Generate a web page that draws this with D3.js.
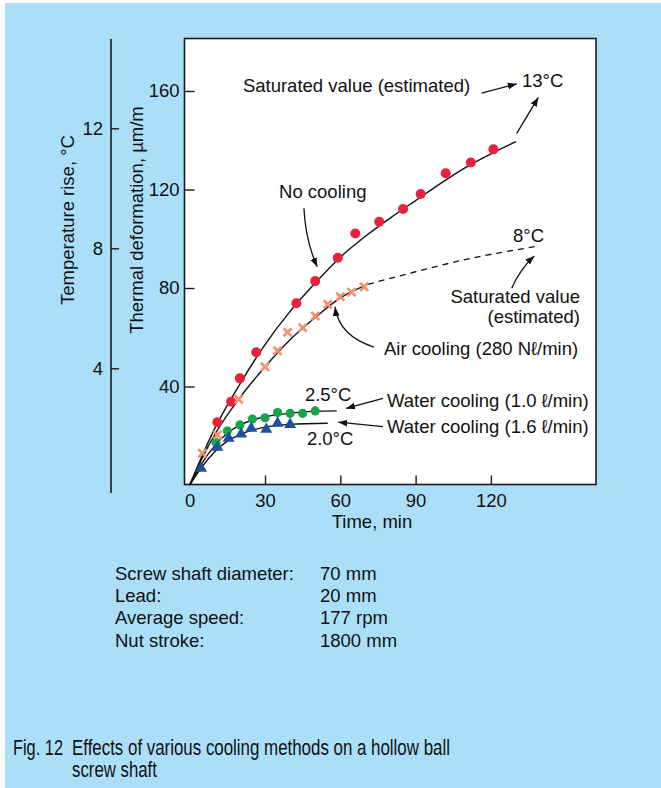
<!DOCTYPE html>
<html>
<head>
<meta charset="utf-8">
<script src="https://cdn.jsdelivr.net/npm/d3@7/dist/d3.min.js"></script>
<style>
  html, body { margin: 0; padding: 0; background: #ffffff; }
  svg { display: block; }
  text { font-family: "Liberation Sans", Arial, Helvetica, sans-serif; fill: #111; }
</style>
</head>
<body>
<svg id="chart" width="661" height="788"></svg>
<script>
// ---- measured series (time in min, deformation in µm/m) ----
const noCoolingTime = [11, 16.5, 20, 26.5, 42.5, 50, 59, 66, 75.5, 85, 92, 102, 112, 121];
const noCoolingDef  = [25.5, 33.8, 43.3, 53.9, 73.8, 82.8, 92.3, 102.1, 106.9, 112.1, 118.2, 126.6, 131, 136.3];

const airTime = [5, 11, 19.5, 30, 35, 39, 45, 50, 55, 60, 64.5, 69.5];
const airDef  = [12.9, 20.3, 34.8, 48, 54.5, 62, 63.9, 68.6, 73.4, 76.5, 78.3, 80.5];

const water10Time = [10.5, 15, 20, 25, 30, 35, 40, 45, 50];
const water10Def  = [17.2, 21.9, 24.4, 26.8, 27.3, 29.4, 29.1, 29.1, 30.1];

const water16Time = [4.5, 11, 15.5, 20.5, 24.5, 30.5, 35, 40];
const water16Def  = [6.8, 15.3, 19, 20.7, 23, 22.6, 25.1, 24.6];

// ---- fitted trend lines ----
const noCoolingFitTime = [0, 5, 10, 20, 30, 40, 50, 60, 70, 80, 90, 100, 110, 120, 130];
const noCoolingFitDef  = [0, 12, 23, 41, 57, 70.5, 82, 92.5, 101, 108.5, 115.5, 122.5, 129, 134.5, 139.4];

const airFitTime = [0, 5, 10, 20, 30, 40, 50, 60, 71];
const airFitDef  = [0, 11, 20.5, 35.5, 48, 59, 68, 76, 81.5];
const airEstTime = [71, 90, 110, 137.6];
const airEstDef  = [81.5, 86.6, 91.6, 96.8];

const water10FitTime = [0, 5, 10, 15, 20, 25, 30, 40, 50, 58.6];
const water10FitDef  = [0, 9, 16, 21, 24.3, 26.4, 27.7, 29.2, 29.9, 30.1];

const water16FitTime = [0, 5, 10, 15, 20, 25, 30, 40, 55];
const water16FitDef  = [0, 7.5, 13.5, 17.8, 20.5, 22.3, 23.5, 24.6, 25.1];

// ---- axes ----
const timeTicks = [0, 30, 60, 90, 120];
const defTicks  = [40, 80, 120, 160];
const tempTicks = [4, 8, 12];

const specLabels = ["Screw shaft diameter:", "Lead:", "Average speed:", "Nut stroke:"];
const specValues = ["70 mm", "20 mm", "177 rpm", "1800 mm"];

const zip = (xs, ys) => xs.map((v, i) => [v, ys[i]]);

const svg = d3.select("#chart");

// panel background
svg.append("rect").attr("x", 5).attr("y", 3).attr("width", 656).attr("height", 785)
  .attr("fill", "#abdff9");

const box = { left: 184.5, right: 596, top: 38.5, bottom: 484.5 };

const x = d3.scaleLinear().domain([0, 120]).range([189.7, 490.9]);
const y = d3.scaleLinear().domain([0, 160]).range([485, 91]);
const yT = d3.scaleLinear().domain([0, 12]).range([488.3, 128.3]);

// plot area
svg.append("rect")
  .attr("x", box.left).attr("y", box.top)
  .attr("width", box.right - box.left).attr("height", box.bottom - box.top)
  .attr("fill", "#ffffff").attr("stroke", "#1a1a1a").attr("stroke-width", 1.6);

const fontSize = 18.5;

// bottom axis (ticks point inward)
const gx = svg.append("g").attr("transform", `translate(0,${box.bottom})`)
  .call(d3.axisBottom(x).tickValues(timeTicks).tickSizeInner(-9).tickSizeOuter(0).tickPadding(9));
gx.select(".domain").remove();
gx.selectAll(".tick line").attr("stroke", "#1a1a1a").attr("stroke-width", 1.4)
  .filter(d => d === 0).remove();
gx.selectAll(".tick text").attr("font-size", fontSize).attr("font-family", null).attr("fill", "#111");

// left deformation axis (ticks point inward)
const gy = svg.append("g").attr("transform", `translate(${box.left},0)`)
  .call(d3.axisLeft(y).tickValues(defTicks).tickSizeInner(-10).tickSizeOuter(0).tickPadding(5));
gy.select(".domain").remove();
gy.selectAll(".tick line").attr("stroke", "#1a1a1a").attr("stroke-width", 1.4);
gy.selectAll(".tick text").attr("font-size", fontSize).attr("font-family", null).attr("fill", "#111");

// temperature axis
const tAxisX = 111;
svg.append("line").attr("x1", tAxisX).attr("x2", tAxisX).attr("y1", 39).attr("y2", 493)
  .attr("stroke", "#1a1a1a").attr("stroke-width", 1.6);
const gt = svg.append("g").attr("transform", `translate(${tAxisX},0)`)
  .call(d3.axisLeft(yT).tickValues(tempTicks).tickSizeInner(-8).tickSizeOuter(0).tickPadding(8));
gt.select(".domain").remove();
gt.selectAll(".tick line").attr("stroke", "#1a1a1a").attr("stroke-width", 1.4);
gt.selectAll(".tick text").attr("font-size", fontSize).attr("font-family", null).attr("fill", "#111");

// axis titles
svg.append("text").attr("transform", "translate(143,220) rotate(-90)")
  .attr("text-anchor", "middle").attr("font-size", fontSize).text("Thermal deformation, µm/m");
svg.append("text").attr("transform", "translate(74,220) rotate(-90)")
  .attr("text-anchor", "middle").attr("font-size", fontSize).text("Temperature rise, °C");
svg.append("text").attr("x", 372).attr("y", 528)
  .attr("text-anchor", "middle").attr("font-size", fontSize).text("Time, min");

// arrowhead
svg.append("defs").append("marker")
  .attr("id", "head").attr("viewBox", "0 0 10 10").attr("refX", 10).attr("refY", 5)
  .attr("markerWidth", 9).attr("markerHeight", 9).attr("markerUnits", "userSpaceOnUse")
  .attr("orient", "auto")
  .append("path").attr("d", "M0,1.2 L10,5 L0,8.8 Z").attr("fill", "#111");

// trend lines
const line = d3.line().x(d => x(d[0])).y(d => y(d[1])).curve(d3.curveMonotoneX);
const plot = svg.append("g");
[[noCoolingFitTime, noCoolingFitDef], [airFitTime, airFitDef],
 [water10FitTime, water10FitDef], [water16FitTime, water16FitDef]].forEach(([t, v]) => {
  plot.append("path").attr("d", line(zip(t, v)))
    .attr("fill", "none").attr("stroke", "#111").attr("stroke-width", 1.4);
});
plot.append("path").attr("d", line(zip(airEstTime, airEstDef)))
  .attr("fill", "none").attr("stroke", "#111").attr("stroke-width", 1.3)
  .attr("stroke-dasharray", "6,5");

// markers
plot.selectAll(".nc").data(zip(noCoolingTime, noCoolingDef)).join("circle")
  .attr("cx", d => x(d[0])).attr("cy", d => y(d[1])).attr("r", 5).attr("fill", "#e8213c");
plot.selectAll(".w10").data(zip(water10Time, water10Def)).join("circle")
  .attr("cx", d => x(d[0])).attr("cy", d => y(d[1])).attr("r", 4.6).attr("fill", "#17a54b");
const tri = d3.symbol().type(d3.symbolTriangle).size(62);
plot.selectAll(".w16").data(zip(water16Time, water16Def)).join("path")
  .attr("transform", d => `translate(${x(d[0])},${y(d[1])})`)
  .attr("d", tri).attr("fill", "#1b4f9f");
const cross = d3.symbol().type(d3.symbolX).size(45);
plot.selectAll(".air").data(zip(airTime, airDef)).join("path")
  .attr("transform", d => `translate(${x(d[0])},${y(d[1])})`)
  .attr("d", cross).attr("fill", "none").attr("stroke", "#f4906e").attr("stroke-width", 2.6);

// annotations (positions in data units)
const ann = svg.append("g");
function label(t, v, txt, anchor) {
  ann.append("text").attr("x", x(t)).attr("y", y(v)).attr("font-size", fontSize)
    .attr("text-anchor", anchor || "start").text(txt);
}
function arrow(p0, p1, ctrl) {
  const a = [x(p0[0]), y(p0[1])], b = [x(p1[0]), y(p1[1])];
  const d = ctrl ? `M${a}Q${x(ctrl[0])},${y(ctrl[1])} ${b}` : `M${a}L${b}`;
  ann.append("path").attr("d", d).attr("fill", "none").attr("stroke", "#111")
    .attr("stroke-width", 1.3).attr("marker-end", "url(#head)");
}

label(21.2, 159.4, "Saturated value (estimated)");
arrow([116.3, 159.1], [130.3, 162.9]);
label(132.4, 161.6, "13°C");
arrow([130.3, 142.8], [138.9, 157.4]);

label(35.6, 116.4, "No cooling");
arrow([45.5, 112.4], [50.8, 88.6], [46.2, 99]);

label(128.8, 98.8, "8°C");
label(155.5, 73.9, "Saturated value", "end");
label(155.5, 65.9, "(estimated)", "end");
arrow([128.3, 79.9], [137.3, 93.0], [131.5, 87.5]);

label(77.4, 52.8, "Air cooling (280 Nℓ/min)");
arrow([73.4, 56.0], [57.9, 72.3], [59.5, 60.5]);

label(45.9, 34.2, "2.5°C");
label(46.7, 16.2, "2.0°C");
arrow([77.0, 35.2], [62.3, 31.1]);
label(78.6, 31.8, "Water cooling (1.0 ℓ/min)");
arrow([77.0, 23.7], [59.2, 25.5]);
label(78.6, 21.2, "Water cooling (1.6 ℓ/min)");

// test conditions
const spec = svg.append("g");
specLabels.forEach((s, i) => {
  spec.append("text").attr("x", 115).attr("y", 580 + i * 22.2).attr("font-size", fontSize).text(s);
  spec.append("text").attr("x", 320).attr("y", 580 + i * 22.2).attr("font-size", fontSize).text(specValues[i]);
});

// caption with hanging indent, set in a narrow width
const capSize = 21.5;
function narrowText(px, py, width, txt) {
  const t = svg.append("text").attr("font-size", capSize).text(txt);
  const natural = t.node().getComputedTextLength();
  t.attr("transform", `translate(${px},${py}) scale(${width / natural},1)`);
}
narrowText(13, 755, 50, "Fig. 12");
narrowText(72, 755, 378, "Effects of various cooling methods on a hollow ball");
narrowText(72, 777, 85, "screw shaft");
</script>
</body>
</html>
